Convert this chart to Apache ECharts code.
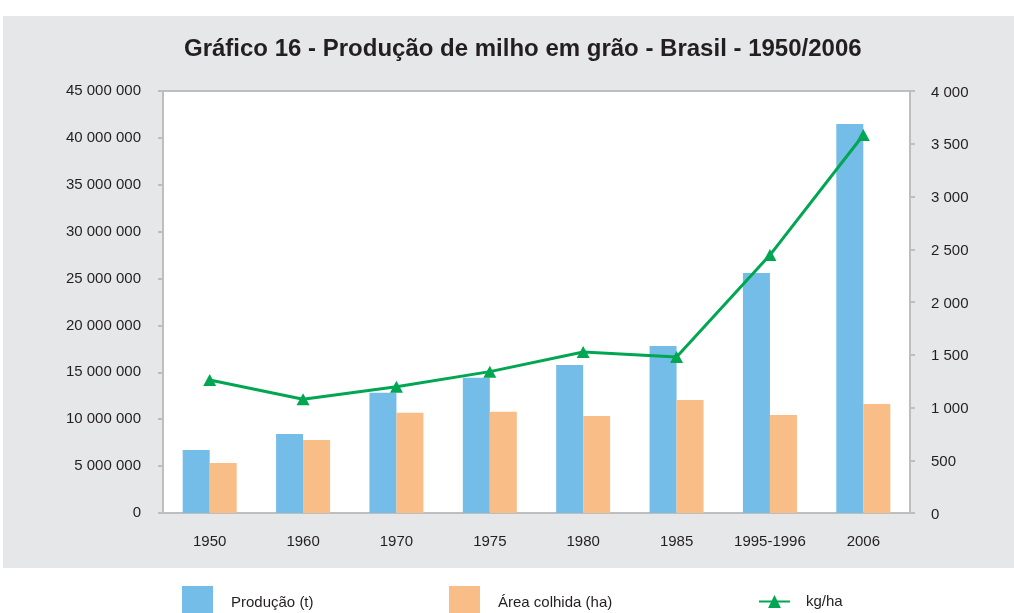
<!DOCTYPE html>
<html><head><meta charset="utf-8">
<script src="https://cdn.jsdelivr.net/npm/echarts@6/dist/echarts.min.js"></script>
<style>html,body{margin:0;padding:0;background:#fff}#c{width:1014px;height:613px}</style>
</head><body><div id="c"></div>
<script>
const categories = ['1950','1960','1970','1975','1980','1985','1995-1996','2006'];
const producao = [6720000, 8420000, 12830000, 14430000, 15780000, 17800000, 25600000, 41480000];
const area = [5330000, 7780000, 10700000, 10800000, 10340000, 12050000, 10450000, 11620000];
const kgha = [1261, 1078, 1197, 1340, 1526, 1479, 2445, 3583];

const fmt = v => String(Math.round(v)).replace(/\B(?=(\d{3})+(?!\d))/g, ' ');
const axisGray = '#bcbec0';
const font = 'Liberation Sans, Arial, sans-serif';
const legText = {fontFamily:font, fontSize:15, color:'#231f20', padding:[0,0,0,13]};

const chart = echarts.init(document.getElementById('c'), null, {renderer:'canvas'});
chart.setOption({
  animation:false,
  graphic:[{type:'rect', z:-10, silent:true, shape:{x:3,y:16,width:1011,height:552}, style:{fill:'#e6e7e8'}}],
  title:{text:'Gráfico 16 - Produção de milho em grão - Brasil - 1950/2006', left:179, top:32,
    textStyle:{fontFamily:font, fontSize:24, fontWeight:'bold', color:'#231f20'}},
  grid:{left:163, right:104, top:91, bottom:100, show:true, backgroundColor:'#fff', borderColor:axisGray, borderWidth:2},
  legend:[
    {data:[{name:'Produção (t)', icon:'rect'}], left:182, top:586, padding:0, itemWidth:31, itemHeight:34, textStyle:legText},
    {data:[{name:'Área colhida (ha)', icon:'rect'}], left:449, top:586, padding:0, itemWidth:31, itemHeight:34, textStyle:legText},
    {data:['kg/ha'], left:758, top:594, padding:0, itemWidth:31, itemHeight:16, textStyle:Object.assign({}, legText, {padding:[0,0,0,11]})}
  ],
  xAxis:{type:'category', data:categories,
    axisLine:{lineStyle:{color:axisGray, width:2}}, axisTick:{show:false},
    axisLabel:{margin:21, fontFamily:font, fontSize:15, color:'#231f20'}},
  yAxis:[
    {type:'value', min:0, max:45000000, interval:5000000, splitLine:{show:false},
      axisLine:{show:true, lineStyle:{color:axisGray, width:2}},
      axisTick:{show:true, length:5, lineStyle:{color:axisGray, width:2}},
      axisLabel:{margin:22, formatter:fmt, fontFamily:font, fontSize:15, color:'#231f20'}},
    {type:'value', min:0, max:4000, interval:500, splitLine:{show:false}, position:'right',
      axisLine:{show:true, lineStyle:{color:axisGray, width:2}},
      axisTick:{show:true, length:5, lineStyle:{color:axisGray, width:2}},
      axisLabel:{margin:21, formatter:fmt, fontFamily:font, fontSize:15, color:'#231f20', verticalAlign:'top', padding:[-6,0,0,0]}}
  ],
  series:[
    {name:'Produção (t)', type:'bar', data:producao, barWidth:27, barGap:'0%', itemStyle:{color:'#74bde8'}},
    {name:'Área colhida (ha)', type:'bar', data:area, barWidth:27, barGap:'0%', itemStyle:{color:'#f9bd87'}},
    {name:'kg/ha', type:'line', yAxisIndex:1, data:kgha, symbol:'triangle', symbolSize:[13,12],
      lineStyle:{color:'#00a651', width:3}, itemStyle:{color:'#00a651'}}
  ]
});
</script></body></html>
